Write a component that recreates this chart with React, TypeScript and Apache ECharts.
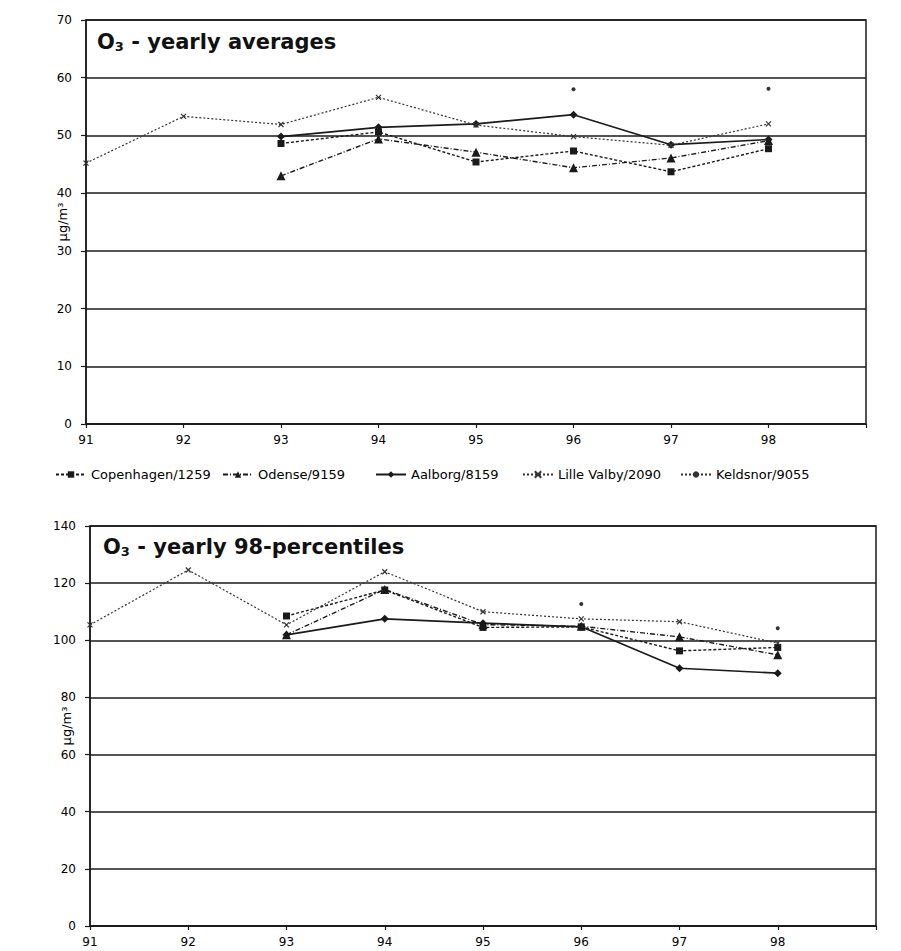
import React, { useEffect, useRef } from 'react';
import * as echarts from 'echarts';

const years = [91, 92, 93, 94, 95, 96, 97, 98];
const seriesNames = ['Copenhagen/1259', 'Odense/9159', 'Aalborg/8159', 'Lille Valby/2090', 'Keldsnor/9055'];

// yearly averages (µg/m³)
const avgCopenhagen = [null, null, 48.6, 50.6, 45.4, 47.3, 43.7, 47.7];
const avgOdense = [null, null, 43.0, 49.4, 47.1, 44.4, 46.1, 49.1];
const avgAalborg = [null, null, 49.8, 51.4, 52.0, 53.6, 48.4, 49.3];
const avgLilleValby = [45.2, 53.3, 51.9, 56.6, 51.8, 49.8, 48.3, 52.0];
const avgKeldsnor = [null, null, null, null, null, 58.0, null, 58.1];

// yearly 98-percentiles (µg/m³)
const p98Copenhagen = [null, null, 108.5, 117.6, 104.5, 104.7, 96.3, 97.5];
const p98Odense = [null, null, 101.9, 117.8, 105.5, 104.9, 101.2, 94.9];
const p98Aalborg = [null, null, 101.9, 107.5, 106.0, 104.7, 90.2, 88.5];
const p98LilleValby = [105.4, 124.6, 105.4, 124.0, 110.0, 107.5, 106.5, 99.0];
const p98Keldsnor = [null, null, null, null, null, 112.7, null, 104.2];

const topTicks = { min: 0, max: 70, interval: 10 };
const bottomTicks = { min: 0, max: 140, interval: 20 };

const INK = '#1a1a1a';
const FONT = 'DejaVu Sans';

const styles = [
  { symbol: 'rect', symbolSize: 7, type: [3, 2] as any, width: 1.4, color: INK },
  { symbol: 'triangle', symbolSize: 9, type: [5, 2, 1, 2] as any, width: 1.4, color: INK },
  { symbol: 'diamond', symbolSize: 8, type: 'solid' as any, width: 1.6, color: INK },
  { symbol: 'path://M0,0L10,10M10,0L0,10', symbolSize: 5, type: [2, 2] as any, width: 1.2, color: '#333' },
  { symbol: 'circle', symbolSize: 4, type: [2, 2] as any, width: 1.2, color: '#333' },
];

const legendLefts = [55, 222, 375, 522, 680];

function toPairs(vals: (number | null)[]) {
  return years.map((y, i) => [y, vals[i] == null ? '-' : vals[i]]);
}

export default function App() {
  const ref = useRef<HTMLDivElement>(null);
  useEffect(() => {
    document.body.style.margin = '0';
    const chart = echarts.init(ref.current!, undefined, { renderer: 'svg' });
    const axisLabel = { color: '#000', fontFamily: FONT, fontSize: 12 };
    const xAxisBase = {
      type: 'value' as const,
      min: 91,
      max: 99,
      interval: 1,
      axisLine: { show: true, onZero: false, lineStyle: { color: INK, width: 1.5 } },
      axisTick: { show: true, length: 4, lineStyle: { color: INK, width: 1.2 } },
      axisLabel: { ...axisLabel, margin: 10, formatter: (v: number) => (v === 99 ? '' : String(v)) },
      splitLine: { show: false },
    };
    const yAxisBase = {
      type: 'value' as const,
      axisLine: { show: true, lineStyle: { color: INK, width: 1.5 } },
      axisTick: { show: true, length: 5, lineStyle: { color: INK, width: 1.2 } },
      axisLabel: { ...axisLabel, margin: 14 },
      splitLine: { show: true, lineStyle: { color: INK, width: 1.5 } },
      name: 'µg/m³',
      nameLocation: 'middle' as const,
      nameRotate: 90,
      nameGap: 17,
      nameMoveOverlap: false,
      nameTextStyle: { color: '#000', fontFamily: FONT, fontSize: 13 },
    };
    const topData = [avgCopenhagen, avgOdense, avgAalborg, avgLilleValby, avgKeldsnor];
    const botData = [p98Copenhagen, p98Odense, p98Aalborg, p98LilleValby, p98Keldsnor];
    const mk = (vals: (number | null)[], i: number, idx: number) => ({
      name: seriesNames[i],
      type: 'line' as const,
      xAxisIndex: idx,
      yAxisIndex: idx,
      data: toPairs(vals),
      symbol: styles[i].symbol,
      symbolSize: styles[i].symbolSize,
      showAllSymbol: true,
      connectNulls: false,
      lineStyle: { color: styles[i].color, width: styles[i].width, type: styles[i].type },
      itemStyle: { color: styles[i].color, borderColor: styles[i].color, borderWidth: i === 3 ? 1.2 : 0 },
      emphasis: { disabled: true },
    });
    const titleRich = {
      a: { fontFamily: FONT, fontSize: 21, fontWeight: 'bold', fill: '#111' },
      b: { fontFamily: FONT, fontSize: 13, fontWeight: 'bold', fill: '#111', padding: [10, 0, 0, 0] },
    };
    chart.setOption({
      animation: false,
      backgroundColor: '#fff',
      grid: [
        { left: 86, top: 20, width: 780, height: 404, show: true, borderColor: INK, borderWidth: 1.5, backgroundColor: 'transparent' },
        { left: 90, top: 526, width: 786, height: 400, show: true, borderColor: INK, borderWidth: 1.5, backgroundColor: 'transparent' },
      ],
      xAxis: [
        { ...xAxisBase, gridIndex: 0 },
        { ...xAxisBase, gridIndex: 1 },
      ],
      yAxis: [
        { ...yAxisBase, gridIndex: 0, ...topTicks },
        { ...yAxisBase, gridIndex: 1, ...bottomTicks },
      ],
      legend: seriesNames.map((n, i) => ({
        data: [n],
        left: legendLefts[i],
        top: 468,
        itemWidth: 30,
        itemHeight: 8,
        itemGap: 0,
        padding: 0,
        textStyle: { color: '#000', fontFamily: FONT, fontSize: 13, padding: [0, 0, 0, 0] },
      })),
      graphic: [
        {
          type: 'text',
          left: 97,
          top: 31,
          style: { text: '{a|O}{b|3}{a| - yearly averages}', rich: titleRich },
        },
        {
          type: 'text',
          left: 103,
          top: 536,
          style: { text: '{a|O}{b|3}{a| - yearly 98-percentiles}', rich: titleRich },
        },
      ],
      series: [
        ...topData.map((d, i) => mk(d, i, 0)),
        ...botData.map((d, i) => mk(d, i, 1)),
      ],
    });
    return () => chart.dispose();
  }, []);
  return <div ref={ref} style={{ position: 'absolute', left: 0, top: 0, width: 901, height: 951 }} />;
}
